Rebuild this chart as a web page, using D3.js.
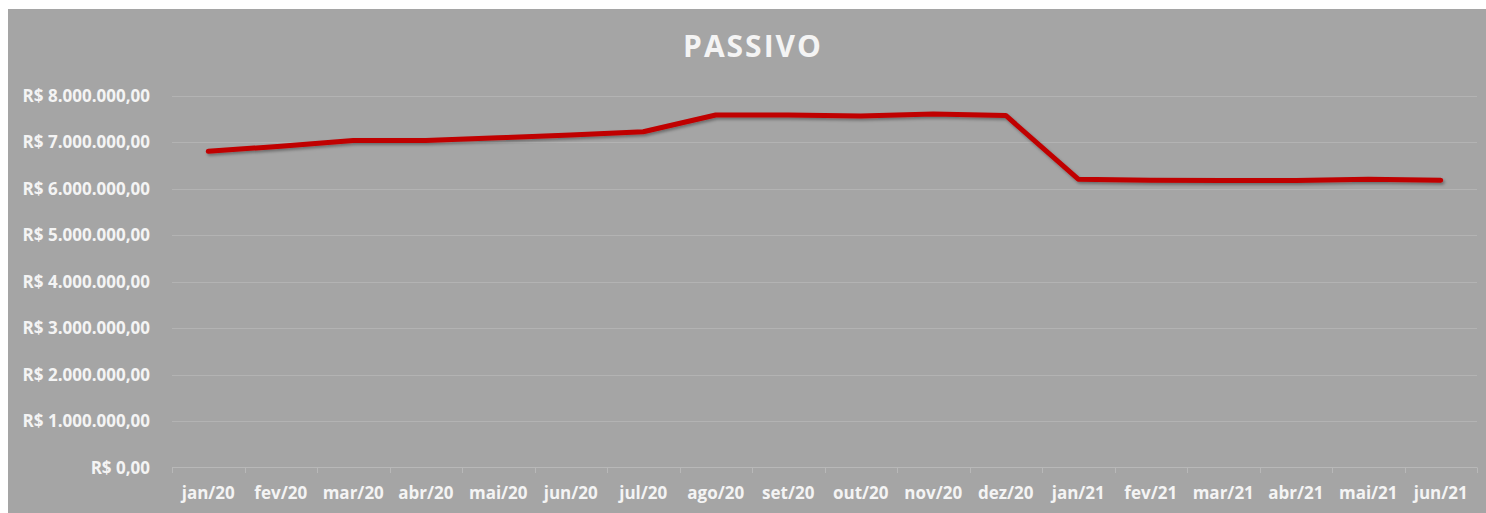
<!DOCTYPE html>
<html lang="pt">
<head>
	<meta charset="UTF-8" />
	<title>PASSIVO</title>
	<script src="https://cdn.jsdelivr.net/npm/d3@7/dist/d3.min.js"></script>
	<style>
		body { margin: 0; background: #fff; }
		text { font-family: "Open Sans", sans-serif; font-weight: bold; fill: #f4f4f4; }
	</style>
</head>
<body>
	<svg id="vis" width="1486" height="513"></svg>
	<script>
		// Dados
		var meses = ["jan/20", "fev/20", "mar/20", "abr/20", "mai/20", "jun/20", "jul/20", "ago/20", "set/20",
			"out/20", "nov/20", "dez/20", "jan/21", "fev/21", "mar/21", "abr/21", "mai/21", "jun/21"];
		var passivo = [6800000, 6910000, 7030000, 7030000, 7090000, 7150000, 7220000, 7580000, 7580000,
			7560000, 7600000, 7570000, 6200000, 6180000, 6170000, 6170000, 6200000, 6180000];
		var ticksY = [0, 1000000, 2000000, 3000000, 4000000, 5000000, 6000000, 7000000, 8000000];

		var svg = d3.select("#vis");

		// fundo
		svg.append("rect")
			.attr("x", 8).attr("y", 9)
			.attr("width", 1478).attr("height", 504)
			.attr("fill", "#a5a5a5");

		// sombra da linha
		var defs = svg.append("defs");
		defs.append("filter").attr("id", "sombra")
			.attr("x", "-5%").attr("y", "-50%").attr("width", "110%").attr("height", "200%")
			.append("feDropShadow")
			.attr("dx", 1.5).attr("dy", 2)
			.attr("stdDeviation", 1.5)
			.attr("flood-color", "#000")
			.attr("flood-opacity", 0.35);

		// escalas
		var x = d3.scaleBand().domain(meses).range([172, 1477]);
		var y = d3.scaleLinear().domain([0, 8000000]).range([467.5, 95.5]);

		function moeda(v) {
			if (v === 0) return "R$ 0,00";
			return "R$ " + d3.format(",")(v).replace(/,/g, ".") + ",00";
		}

		// grades
		svg.append("g").selectAll("line")
			.data(ticksY.slice(1))
			.join("line")
			.attr("x1", 172).attr("x2", 1477)
			.attr("y1", function(d) { return Math.round(y(d)) + 0.5; })
			.attr("y2", function(d) { return Math.round(y(d)) + 0.5; })
			.attr("stroke", "#b3b3b3")
			.attr("stroke-width", 1);

		// eixo Y
		var gy = svg.append("g")
			.attr("transform", "translate(153,0)")
			.call(d3.axisLeft(y).tickValues(ticksY).tickFormat(moeda).tickSize(0));
		gy.select(".domain").remove();
		gy.selectAll("text")
			.attr("font-size", 17)
			.attr("dy", "0.35em");

		// eixo X
		svg.append("line")
			.attr("x1", 172).attr("x2", 1477)
			.attr("y1", 467.5).attr("y2", 467.5)
			.attr("stroke", "#b8b8b8");
		svg.append("g").selectAll("line")
			.data(d3.range(meses.length + 1))
			.join("line")
			.attr("x1", function(i) { return Math.round(172 + i * x.step()) + 0.5; })
			.attr("x2", function(i) { return Math.round(172 + i * x.step()) + 0.5; })
			.attr("y1", 467.5).attr("y2", 473)
			.attr("stroke", "#b8b8b8");
		svg.append("g").selectAll("text")
			.data(meses)
			.join("text")
			.attr("x", function(d) { return x(d) + x.bandwidth() / 2; })
			.attr("y", 499)
			.attr("text-anchor", "middle")
			.attr("font-size", 17)
			.text(function(d) { return d; });

		// linha
		var linha = d3.line()
			.x(function(d, i) { return x(meses[i]) + x.bandwidth() / 2; })
			.y(function(d) { return y(d); });

		svg.append("path")
			.attr("d", linha(passivo))
			.attr("fill", "none")
			.attr("stroke", "#c00000")
			.attr("stroke-width", 5)
			.attr("stroke-linecap", "round")
			.attr("stroke-linejoin", "round")
			.attr("filter", "url(#sombra)");

		// titulo
		svg.append("text")
			.attr("x", 753).attr("y", 57)
			.attr("text-anchor", "middle")
			.attr("font-size", 30)
			.attr("letter-spacing", 2)
			.attr("fill", "#ffffff")
			.text("PASSIVO");
	</script>
</body>
</html>
